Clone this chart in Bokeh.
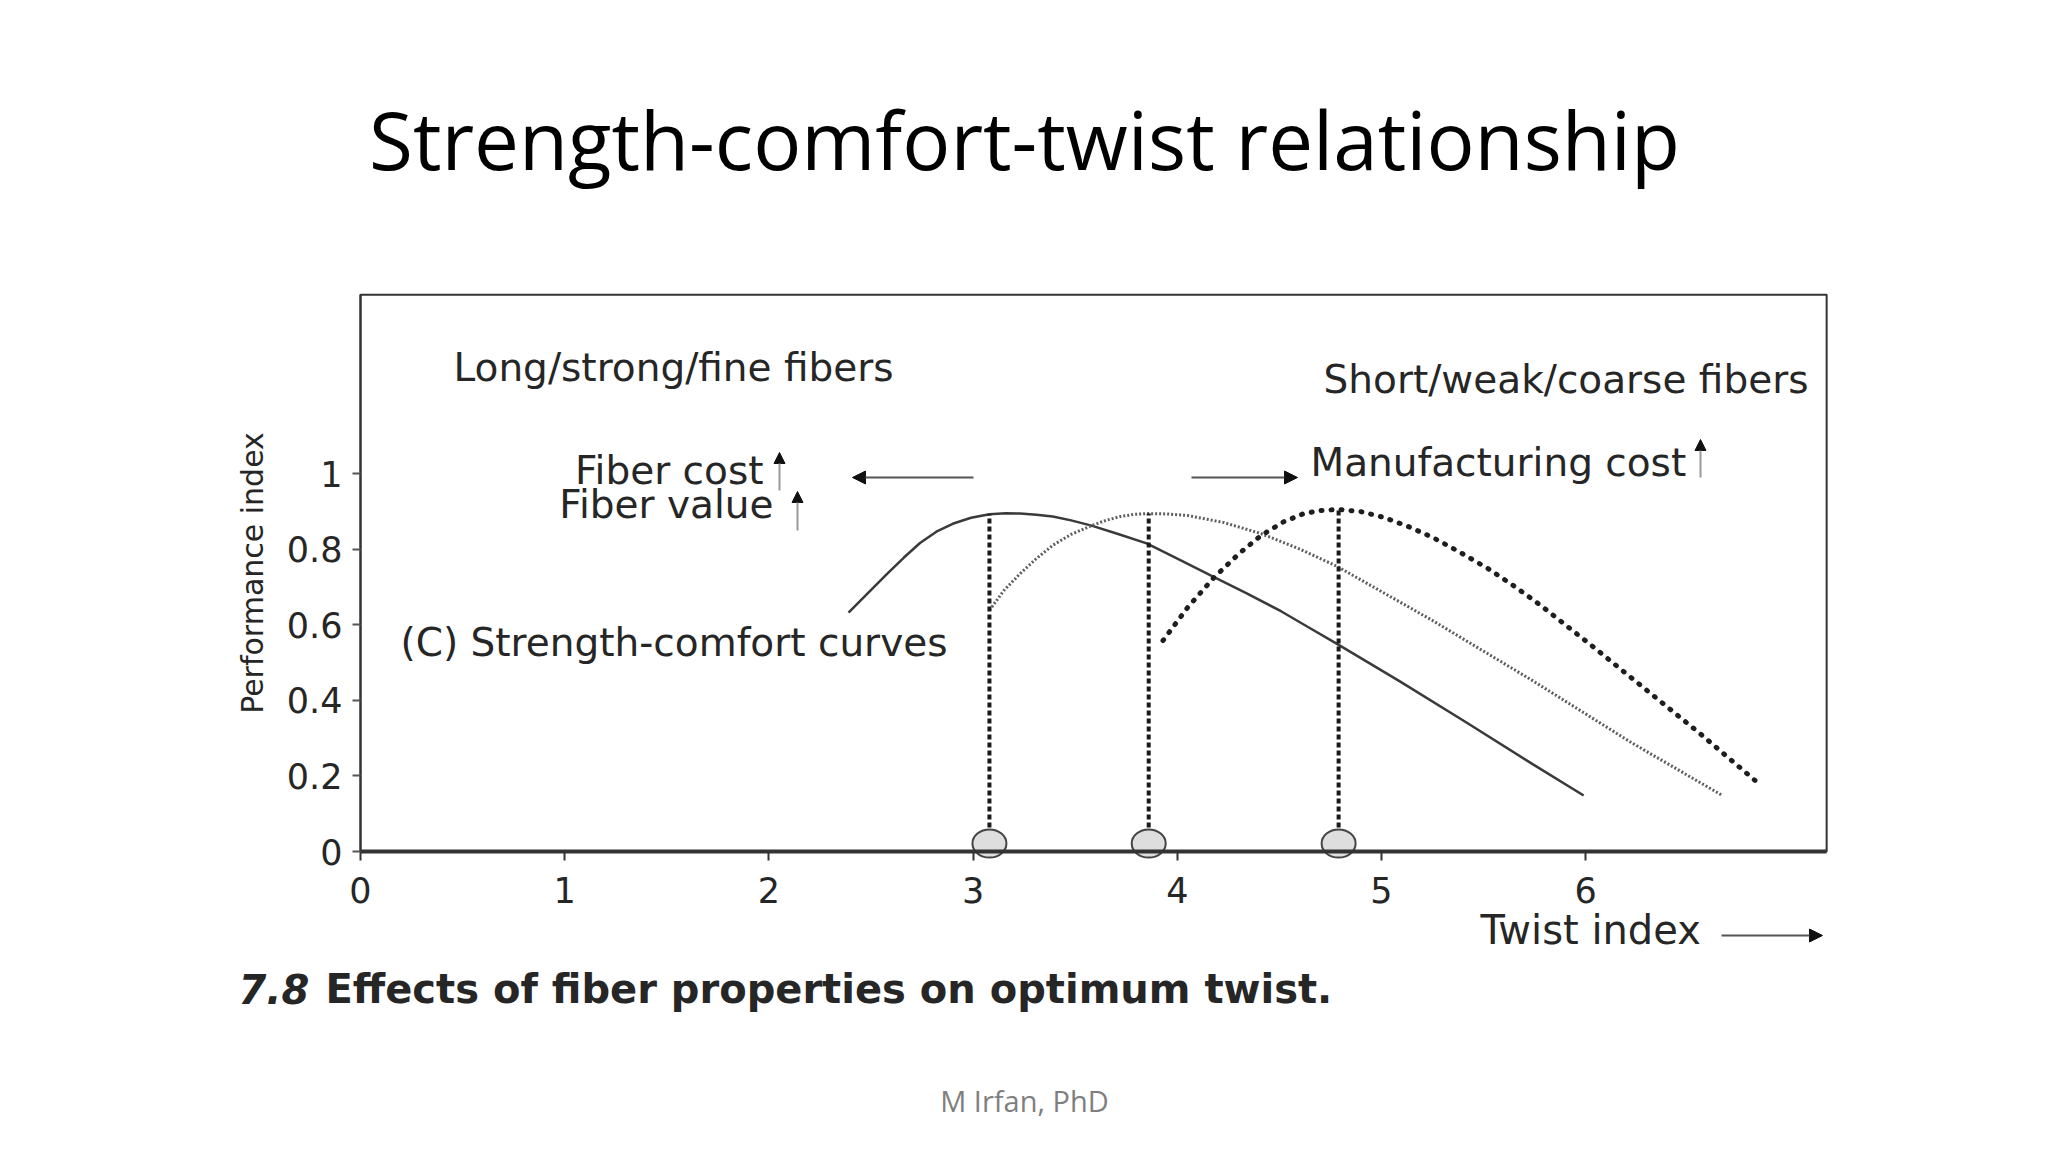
from bokeh.plotting import figure
from bokeh.models import Range1d, FixedTicker, Label, Arrow, NormalHead, BoxAnnotation
from bokeh.embed import file_html
from bokeh.resources import INLINE

# ---- data ----
x_ticks = [0, 1, 2, 3, 4, 5, 6]
x_tick_labels = ["0", "1", "2", "3", "4", "5", "6"]
y_ticks = [0, 0.2, 0.4, 0.6, 0.8, 1.0]
y_tick_labels = ["0", "0.2", "0.4", "0.6", "0.8", "1"]
x_max = 7.18    # right edge of the plot box
y_max = 1.473   # top edge of the plot box

# Long/strong/fine fibers (solid)
long_x = [2.39, 2.48, 2.58, 2.66, 2.74, 2.82, 2.90, 2.99, 3.08, 3.16, 3.23, 3.31, 3.39, 3.48,
          3.58, 3.71, 3.85, 4.01, 4.18, 4.34, 4.51, 4.64, 4.78, 5.09, 5.42, 5.74, 5.99]
long_y = [0.632, 0.681, 0.735, 0.777, 0.816, 0.846, 0.867, 0.883, 0.892, 0.895, 0.894, 0.891,
          0.886, 0.876, 0.862, 0.840, 0.815, 0.772, 0.726, 0.683, 0.635, 0.594, 0.550, 0.450,
          0.340, 0.231, 0.148]
# intermediate fibers (fine dotted)
mid_x = [3.08, 3.15, 3.23, 3.31, 3.39, 3.48, 3.58, 3.65, 3.72, 3.79, 3.85, 3.95, 4.05, 4.23,
         4.41, 4.60, 4.78, 5.25, 5.74, 6.23, 6.67]
mid_y = [0.638, 0.690, 0.735, 0.775, 0.810, 0.839, 0.862, 0.876, 0.886, 0.892, 0.894, 0.893,
         0.889, 0.870, 0.841, 0.800, 0.755, 0.611, 0.452, 0.286, 0.148]
# Short/weak/coarse fibers (bold dotted)
short_x = [3.93, 4.05, 4.18, 4.30, 4.41, 4.52, 4.62, 4.70, 4.79, 4.90, 5.01, 5.13, 5.25, 5.38,
           5.52, 5.65, 5.78, 6.04, 6.30, 6.56, 6.84]
short_y = [0.558, 0.645, 0.725, 0.787, 0.836, 0.872, 0.894, 0.902, 0.905, 0.899, 0.884, 0.860,
           0.831, 0.793, 0.749, 0.702, 0.651, 0.540, 0.426, 0.312, 0.183]
# optimum twist for each curve
opt_x = [3.08, 3.86, 4.79]
opt_y = [0.892, 0.894, 0.905]

FONT = "DejaVu Sans"
TXT = "#262626"

# ---- layout: page pixels of the plot box ----
W, H = 2046, 1150
BOX_L, BOX_B = 360, 851          # page px of (0, 0)
PX_X, PX_Y = 204.2, 378.0        # px per data unit


def X(px):
    return (px - BOX_L) / PX_X


def Y(py):
    return (BOX_B - py) / PX_Y


p = figure(width=W, height=H, title=None,
           x_range=Range1d(X(0), X(W)), y_range=Range1d(Y(H), Y(0)),
           output_backend="svg", toolbar_location=None,
           min_border=0, min_border_left=0, min_border_right=0,
           min_border_top=0, min_border_bottom=0)
p.background_fill_color = "white"
p.border_fill_color = "white"
p.outline_line_color = None
p.xgrid.visible = False
p.ygrid.visible = False

# plot box
p.add_layout(BoxAnnotation(left=0, right=x_max, bottom=0, top=y_max,
                           fill_alpha=0, line_color="#333333", line_alpha=1.0,
                           line_width=2, level="underlay"))

# axes (kept at the box edges)
xa = p.xaxis[0]
xa.fixed_location = 0
xa.bounds = (0, x_max)
xa.ticker = FixedTicker(ticks=x_ticks)
xa.major_label_overrides = {t: l for t, l in zip(x_ticks, x_tick_labels)}
xa.axis_line_width = 4
xa.axis_line_color = "#333333"
xa.major_tick_in = 0
xa.major_tick_out = 9
xa.major_tick_line_width = 2
xa.major_tick_line_color = "#333333"
xa.minor_tick_line_color = None
xa.major_label_text_font = FONT
xa.major_label_text_font_size = "35px"
xa.major_label_text_color = TXT
xa.major_label_standoff = 16

ya = p.yaxis[0]
ya.fixed_location = 0
ya.bounds = (0, y_max)
ya.ticker = FixedTicker(ticks=y_ticks)
ya.major_label_overrides = {t: l for t, l in zip(y_ticks, y_tick_labels)}
ya.axis_line_width = 2
ya.axis_line_color = "#333333"
ya.major_tick_in = 0
ya.major_tick_out = 8
ya.major_tick_line_width = 2
ya.major_tick_line_color = "#555555"
ya.minor_tick_line_color = None
ya.major_label_text_font = FONT
ya.major_label_text_font_size = "35px"
ya.major_label_text_color = TXT
ya.major_label_standoff = 10
ya.axis_label = "Performance index"
ya.axis_label_text_font = FONT
ya.axis_label_text_font_size = "30px"
ya.axis_label_text_font_style = "normal"
ya.axis_label_text_color = TXT
ya.axis_label_standoff = 14

# curves
p.line(long_x, long_y, line_color="#3a3a3a", line_width=2.5)
p.line(mid_x, mid_y, line_color="#5e5e5e", line_width=3, line_dash="2 2")
p.line(short_x, short_y, line_color="#1e1e1e", line_width=5, line_dash="1 9", line_cap="round")

# optimum twist drop lines and markers
p.segment(x0=opt_x, y0=[0] * len(opt_x), x1=opt_x, y1=opt_y,
          line_color="#1a1a1a", line_width=4, line_dash="5 3")
p.ellipse(x=opt_x, y=[Y(843)] * len(opt_x), width=34, height=28,
          width_units="screen", height_units="screen",
          fill_color="#dedede", line_color="#444444", line_width=2)


def lab(px, py, text, size="39px", align="left", baseline="alphabetic", **kw):
    opts = dict(x=X(px), y=Y(py), text=text, text_font=FONT, text_font_size=size,
                text_color=TXT, text_align=align, text_baseline=baseline)
    opts.update(kw)
    p.add_layout(Label(**opts))


def arrow(px0, py0, px1, py1, color="#555555", size=13, width=2):
    p.add_layout(Arrow(end=NormalHead(size=size, fill_color="#111111", line_color="#111111"),
                       x_start=X(px0), y_start=Y(py0), x_end=X(px1), y_end=Y(py1),
                       line_color=color, line_width=width))


lab(453, 367, "Long/strong/fine fibers")
lab(1808, 379, "Short/weak/coarse fibers", align="right")
lab(763, 470, "Fiber cost", align="right")
lab(773, 504, "Fiber value", align="right")
lab(1310, 462, "Manufacturing cost")
lab(400, 642, "(C) Strength-comfort curves")

arrow(973, 477, 852, 477)
arrow(1191, 477, 1297, 477)
arrow(779, 490, 779, 452, color="#999999", size=11)
arrow(797, 530, 797, 491, color="#999999", size=11)
arrow(1700, 477, 1700, 439, color="#999999", size=11)

lab(1480, 929, "Twist index", size="40px")
arrow(1721, 935, 1822, 935)

lab(238, 988, "7.8", size="40px", text_font_style="bold italic")
lab(325, 988, "Effects of fiber properties on optimum twist.", size="40px",
    text_font_style="bold")

p.add_layout(Label(x=X(1024), y=Y(138), text="Strength-comfort-twist relationship",
                   text_font="Open Sans", text_font_size="80px", text_color="#000000",
                   text_align="center", text_baseline="alphabetic"))
p.add_layout(Label(x=X(1024), y=Y(1100), text="M Irfan, PhD",
                   text_font="Open Sans", text_font_size="29px", text_color="#7f7f7f",
                   text_align="center", text_baseline="middle"))

open("out.html", "w").write(file_html(p, INLINE))
